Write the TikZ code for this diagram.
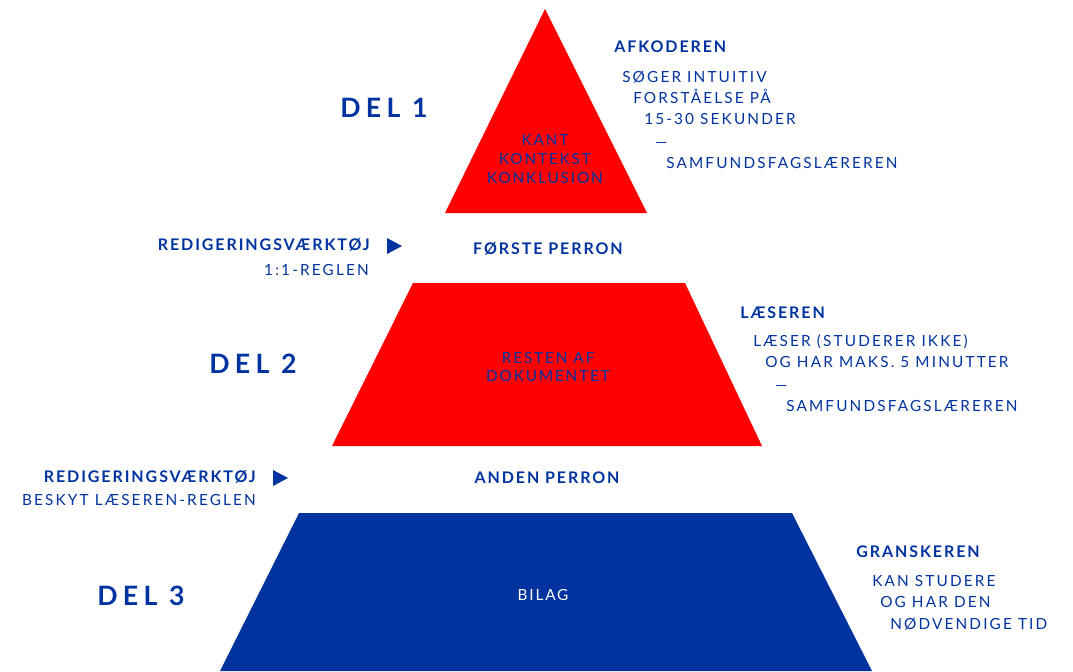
\documentclass[tikz,border=0pt]{standalone}
\usepackage{fontspec}
\setmainfont{Lato}
\newfontfamily\trackedfont[LetterSpace=12]{Lato}
\newfontfamily\widefont[LetterSpace=14]{Lato}
\newfontfamily\delfont[LetterSpace=20]{Lato}
\definecolor{dkblue}{HTML}{0033A0}
\definecolor{pyrred}{HTML}{FF0000}

\begin{document}
\begin{tikzpicture}[x=0.75pt,y=-0.75pt,
    head/.style={font=\trackedfont\bfseries\fontsize{12}{14}\selectfont, text=dkblue, inner sep=0pt, text height=8.6pt, text depth=0pt},
    body/.style={font=\widefont\fontsize{11.5}{13}\selectfont, text=dkblue, inner sep=0pt, text height=8.3pt, text depth=0pt, anchor=west},
    del/.style={font=\delfont\bfseries\fontsize{20}{24}\selectfont, text=dkblue, inner sep=0pt, text height=14.4pt, text depth=0pt, anchor=west},
    inside/.style={font=\trackedfont\fontsize{11.5}{14}\selectfont, inner sep=0pt, align=center}]
    \useasboundingbox (0,0) rectangle (1073,671);

    % pyramid
    \fill[pyrred] (545,9) -- (647,213) -- (445,213) -- cycle;
    \fill[pyrred] (413,283) -- (685,283) -- (762,446) -- (332,446) -- cycle;
    \fill[dkblue] (299,513) -- (792,513) -- (872,671) -- (220,671) -- cycle;

    % inside the levels
    \node[inside, text=dkblue] (top) at (545,159) {KANT\\KONTEKST\\KONKLUSION};
    \node[inside, text=dkblue] (mid) at (548,367) {RESTEN AF\\DOKUMENTET};
    \node[inside, text=white] (bottom) at (543,595) {BILAG};

    % del
    \node[del] (del1) at (340,108) {DEL 1};
    \node[del] (del2) at (209,364) {DEL 2};
    \node[del] (del3) at (97,596) {DEL 3};

    % del 1 text
    \node[head, anchor=west] (afk) at (614,47) {AFKODEREN};
    \node[body] (afk1) at (622,77) {SØGER INTUITIV};
    \node[body] (afk2) at (633,98) {FORSTÅELSE PÅ};
    \node[body] (afk3) at (644,119) {15-30 SEKUNDER};
    \node[body] (afk4) at (655,142) {—};
    \node[body] (afk5) at (666,163) {SAMFUNDSFAGSLÆREREN};

    % first platform
    \node[head, anchor=east] (tool1) at (370,245) {REDIGERINGSVÆRKTØJ};
    \node[body, anchor=east] (rule1) at (369,270) {1:1-REGLEN};
    \fill[dkblue] (387,238) -- (402,246) -- (387,254) -- cycle;
    \node[head] (perron1) at (548,249) {FØRSTE PERRON};

    % del 2 text
    \node[head, anchor=west] (laes) at (740,313) {LÆSEREN};
    \node[body] (laes1) at (753,341) {LÆSER (STUDERER IKKE)};
    \node[body] (laes2) at (765,362) {OG HAR MAKS. 5 MINUTTER};
    \node[body] (laes3) at (775,385) {—};
    \node[body] (laes4) at (786,406) {SAMFUNDSFAGSLÆREREN};

    % second platform
    \node[head, anchor=east] (tool2) at (256,477) {REDIGERINGSVÆRKTØJ};
    \node[body, anchor=east] (rule2) at (256,500) {BESKYT LÆSEREN-REGLEN};
    \fill[dkblue] (273,470) -- (288,478) -- (273,486) -- cycle;
    \node[head] (perron2) at (547,478) {ANDEN PERRON};

    % del 3 text
    \node[head, anchor=west] (gran) at (856,552) {GRANSKEREN};
    \node[body] (gran1) at (872,581) {KAN STUDERE};
    \node[body] (gran2) at (880,602) {OG HAR DEN};
    \node[body] (gran3) at (890,624) {NØDVENDIGE TID};
\end{tikzpicture}
\end{document}
